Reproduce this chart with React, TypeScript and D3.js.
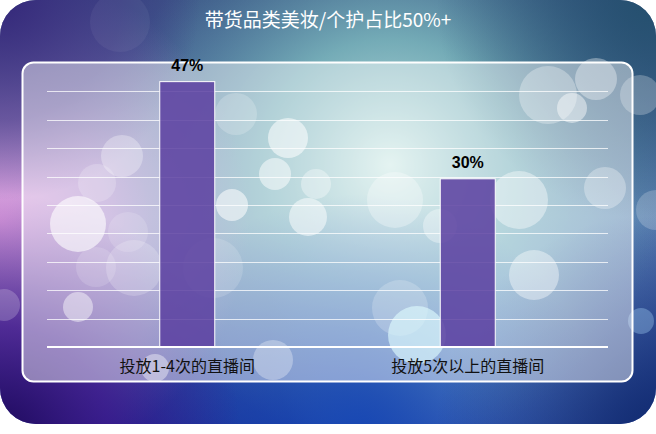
import React from "react";
import * as d3 from "d3";

const categories = ["投放1-4次的直播间", "投放5次以上的直播间"];
const values = [0.467, 0.296];
const gridTicks = [0.05, 0.1, 0.15, 0.2, 0.25, 0.3, 0.35, 0.4, 0.45];
const title = "带货品类美妆/个护占比50%+";

// decorative bokeh circles [cx, cy, r, opacity, color]
const bokeh: [number, number, number, number, string][] = [
  [78, 224, 28, 0.6, "#ffffff"],
  [78, 307, 15, 0.45, "#ffffff"],
  [122, 156, 21, 0.3, "#ffffff"],
  [97, 183, 19, 0.2, "#ffffff"],
  [128, 232, 20, 0.15, "#ffffff"],
  [134, 268, 28, 0.2, "#ffffff"],
  [96, 267, 20, 0.15, "#ffffff"],
  [213, 268, 30, 0.15, "#ffffff"],
  [236, 114, 21, 0.2, "#ffffff"],
  [288, 138, 20, 0.55, "#ffffff"],
  [275, 174, 16, 0.5, "#ffffff"],
  [316, 184, 15, 0.35, "#ffffff"],
  [232, 205, 16, 0.55, "#ffffff"],
  [308, 217, 19, 0.5, "#ffffff"],
  [395, 200, 28, 0.3, "#ffffff"],
  [548, 95, 29, 0.3, "#ffffff"],
  [596, 79, 21, 0.35, "#ffffff"],
  [572, 108, 15, 0.45, "#ffffff"],
  [640, 95, 20, 0.25, "#ffffff"],
  [519, 200, 29, 0.4, "#ffffff"],
  [534, 275, 25, 0.4, "#ffffff"],
  [440, 226, 17, 0.35, "#ffffff"],
  [605, 188, 21, 0.3, "#ffffff"],
  [400, 308, 28, 0.2, "#ffffff"],
  [417, 335, 29, 0.65, "#c0f4fa"],
  [641, 321, 13, 0.35, "#a8d8f8"],
  [656, 210, 20, 0.2, "#ffffff"],
  [155, 368, 14, 0.4, "#ffffff"],
  [273, 360, 20, 0.3, "#ffffff"],
  [4, 305, 16, 0.2, "#ffffff"],
  [120, 22, 30, 0.05, "#ffffff"],
];

export default function App() {
  const W = 656;
  const H = 434;
  const x = d3.scaleBand<string>().domain(categories).range([47, 608]).paddingInner(0.8).paddingOuter(0.4);
  const y = d3.scaleLinear().domain([0, 0.45]).range([347, 91.3]);
  const fmt = d3.format(".0%");
  const bw = 55;

  return (
    <svg width={W} height={H} style={{ position: "absolute", left: 0, top: 0 }}>
      <defs>
        <clipPath id="bgclip">
          <rect x={0} y={0} width={656} height={424} rx={36} ry={36} />
        </clipPath>
        <linearGradient id="base" x1="0" y1="0" x2="0" y2="1">
          <stop offset="0" stopColor="#3d5688" />
          <stop offset="0.5" stopColor="#5a7fb0" />
          <stop offset="1" stopColor="#1a3196" />
        </linearGradient>
        <radialGradient id="midblue" cx="480" cy="330" r="210" gradientUnits="userSpaceOnUse">
          <stop offset="0" stopColor="#7aa8e0" stopOpacity="0.9" />
          <stop offset="1" stopColor="#7aa8e0" stopOpacity="0" />
        </radialGradient>
        <radialGradient id="teal" cx="390" cy="165" r="280" gradientUnits="userSpaceOnUse">
          <stop offset="0" stopColor="#cfeae6" stopOpacity="1" />
          <stop offset="0.45" stopColor="#80bec0" stopOpacity="0.8" />
          <stop offset="1" stopColor="#5a9aa6" stopOpacity="0" />
        </radialGradient>
        <radialGradient id="magenta" cx="0" cy="220" r="250" gradientUnits="userSpaceOnUse">
          <stop offset="0" stopColor="#e0a0e0" stopOpacity="1" />
          <stop offset="0.45" stopColor="#c898d8" stopOpacity="0.75" />
          <stop offset="1" stopColor="#b090d0" stopOpacity="0" />
        </radialGradient>
        <radialGradient id="tl" cx="0" cy="0" r="200" gradientUnits="userSpaceOnUse">
          <stop offset="0" stopColor="#35287a" stopOpacity="1" />
          <stop offset="0.6" stopColor="#3a3180" stopOpacity="0.6" />
          <stop offset="1" stopColor="#3a3180" stopOpacity="0" />
        </radialGradient>
        <radialGradient id="bl" cx="0" cy="434" r="240" gradientUnits="userSpaceOnUse">
          <stop offset="0" stopColor="#1e0a5c" stopOpacity="1" />
          <stop offset="0.45" stopColor="#3a1488" stopOpacity="0.8" />
          <stop offset="1" stopColor="#3a1488" stopOpacity="0" />
        </radialGradient>
        <radialGradient id="bm" cx="360" cy="434" r="240" gradientUnits="userSpaceOnUse">
          <stop offset="0" stopColor="#1848b4" stopOpacity="1" />
          <stop offset="1" stopColor="#1848b4" stopOpacity="0" />
        </radialGradient>
        <radialGradient id="tr" cx="656" cy="0" r="220" gradientUnits="userSpaceOnUse">
          <stop offset="0" stopColor="#24506e" stopOpacity="1" />
          <stop offset="1" stopColor="#24506e" stopOpacity="0" />
        </radialGradient>
        <radialGradient id="br" cx="656" cy="434" r="220" gradientUnits="userSpaceOnUse">
          <stop offset="0" stopColor="#122c70" stopOpacity="1" />
          <stop offset="1" stopColor="#122c70" stopOpacity="0" />
        </radialGradient>
      </defs>

      <g clipPath="url(#bgclip)">
        <rect x={0} y={0} width={W} height={H} fill="url(#base)" />
        <rect x={0} y={0} width={W} height={H} fill="url(#midblue)" />
        <rect x={0} y={0} width={W} height={H} fill="url(#teal)" />
        <rect x={0} y={0} width={W} height={H} fill="url(#magenta)" />
        <rect x={0} y={0} width={W} height={H} fill="url(#tl)" />
        <rect x={0} y={0} width={W} height={H} fill="url(#bm)" />
        <rect x={0} y={0} width={W} height={H} fill="url(#bl)" />
        <rect x={0} y={0} width={W} height={H} fill="url(#tr)" />
        <rect x={0} y={0} width={W} height={H} fill="url(#br)" />
        {bokeh.map(([cx, cy, r, o, c], i) => (
          <circle key={i} cx={cx} cy={cy} r={r} fill={c} fillOpacity={o} />
        ))}
      </g>

      <text
        x={328}
        y={27}
        textAnchor="middle"
        fill="#ffffff"
        fontSize={19}
        fontFamily="'Noto Sans CJK SC', sans-serif"
      >
        {title}
      </text>

      <rect
        x={22.5}
        y={62.5}
        width={610}
        height={319}
        rx={11}
        ry={11}
        fill="#ffffff"
        fillOpacity={0.45}
        stroke="#ffffff"
        strokeWidth={2}
      />

      {gridTicks.map((t) => (
        <line
          key={t}
          x1={47}
          x2={608}
          y1={Math.round(y(t)) + 0.5}
          y2={Math.round(y(t)) + 0.5}
          stroke="#ffffff"
          strokeOpacity={0.75}
          strokeWidth={1}
        />
      ))}

      {categories.map((c, i) => {
        const cx = (x(c) as number) + x.bandwidth() / 2;
        return (
          <g key={c}>
            <rect
              x={cx - bw / 2}
              y={y(values[i])}
              width={bw}
              height={y(0) - y(values[i])}
              fill="#5a3ea0"
              fillOpacity={0.85}
              stroke="#ffffff"
              strokeWidth={1}
            />
            <text
              x={cx}
              y={y(values[i]) - 11}
              textAnchor="middle"
              fontSize={16}
              fontWeight="bold"
              fontFamily="'Liberation Sans', Arial, sans-serif"
              fill="#000000"
            >
              {fmt(values[i])}
            </text>
            <text
              x={cx}
              y={372}
              textAnchor="middle"
              fontSize={16}
              fontFamily="'Noto Sans CJK SC', sans-serif"
              fill="#111111"
            >
              {c}
            </text>
          </g>
        );
      })}

      <line x1={47} x2={608} y1={347} y2={347} stroke="#ffffff" strokeWidth={2} />
    </svg>
  );
}
